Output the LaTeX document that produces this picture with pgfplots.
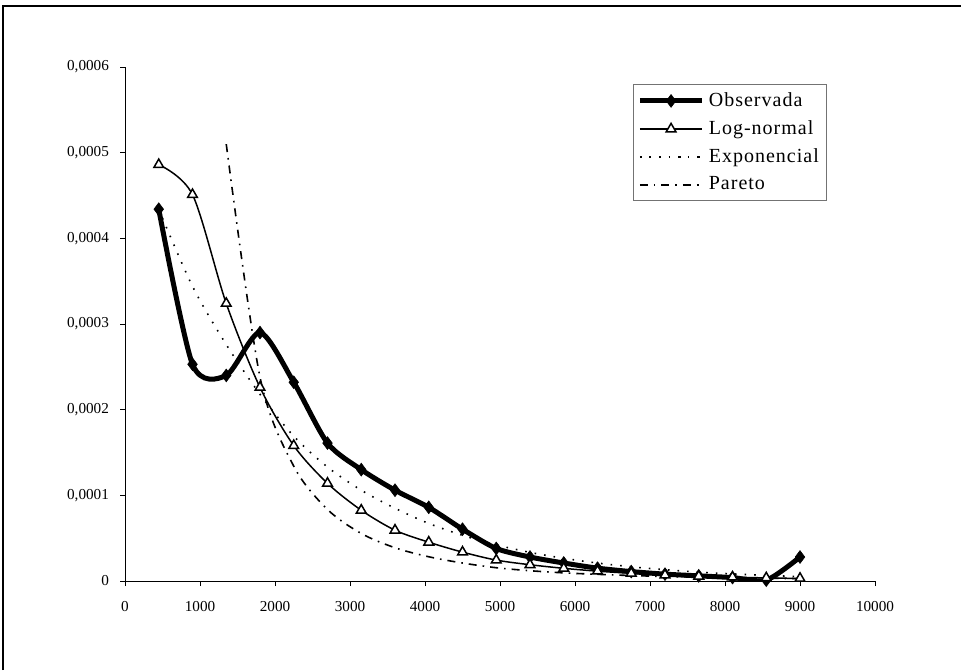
\documentclass[border=0pt]{standalone}
\usepackage{fontspec}
\setmainfont{Liberation Serif}
\usepackage{pgfplots}
\pgfplotsset{compat=1.18}
\usepackage{pgfplotstable}

\pgfplotstableread{
x y
450 0.000434
900 0.000253
1350 0.000240
1800 0.000290
2250 0.000232
2700 0.000161
3150 0.000130
3600 0.000106
4050 0.000086
4500 0.0000605
4950 0.000038
5400 0.000028
5850 0.000021
6300 0.000015
6750 0.000011
7200 0.000008
7650 0.000006
8100 0.000004
8550 0.000001
9000 0.000028
}\observada

\pgfplotstableread{
x y
450 0.000486
900 0.000451
1350 0.000324
1800 0.000226
2250 0.000158
2700 0.000114
3150 0.0000826
3600 0.0000593
4050 0.0000453
4500 0.0000337
4950 0.0000244
5400 0.000019
5850 0.0000148
6300 0.0000115
6750 0.000009
7200 0.000007
7650 0.0000056
8100 0.0000045
8550 0.0000036
9000 0.000003
}\lognormal

\pgfplotstableread{
x y
450 0.000434
900 0.000344
1350 0.000276
1800 0.000218
2250 0.000169
2700 0.000133
3150 0.000106
3600 0.0000849
4050 0.0000672
4500 0.0000533
4950 0.0000422
5400 0.0000334
5850 0.0000265
6300 0.000021
6750 0.0000166
7200 0.0000132
7650 0.0000104
8100 0.0000083
8550 0.0000065
9000 0.0000052
}\exponencial

\pgfplotstableread{
x y
1350 0.000510
1800 0.000238
2250 0.000134
2700 0.0000835
3150 0.0000555
3600 0.0000388
4050 0.0000283
4500 0.0000210
4950 0.0000155
5400 0.0000120
5850 0.0000095
6300 0.0000078
6750 0.0000064
7200 0.0000053
7650 0.0000045
8100 0.0000038
8550 0.0000032
9000 0.0000028
}\pareto

\begin{document}
\begin{tikzpicture}
\path[use as bounding box] (0,0) rectangle (480.5pt,335pt);
\draw[line width=1pt] (1.5pt,0) -- (1.5pt,332pt) -- (480.5pt,332pt);
\begin{axis}[
  at={(62.5pt,44.5pt)}, anchor=south west,
  scale only axis, width=375pt, height=257pt,
  xmin=0, xmax=10000, ymin=0, ymax=0.0006,
  axis lines*=left,
  axis line style={line width=0.5pt, black},
  tick align=outside,
  major tick length=2.5pt,
  tick style={line width=0.5pt, black},
  xtick={0,1000,...,10000},
  ytick={0,0.0001,0.0002,0.0003,0.0004,0.0005,0.0006},
  yticklabels={0,{0,0001},{0,0002},{0,0003},{0,0004},{0,0005},{0,0006}},
  scaled y ticks=false,
  scaled x ticks=false,
  /pgf/number format/1000 sep={},
  /pgf/number format/assume math mode=true,
  tick label style={font=\fontsize{7.6}{8}\selectfont},
  xticklabel style={yshift=-4pt},
  yticklabel style={xshift=-2pt},
  legend cell align=left,
  legend style={at={(rel axis cs:0.677,0.967)}, anchor=north west,
    draw=black!55, line width=0.5pt, inner xsep=2pt, inner ysep=2pt,
    row sep=1.6pt,
    font=\fontsize{10}{12}\selectfont\addfontfeatures{LetterSpace=5}},
  legend image code/.code={\draw[mark repeat=2,mark phase=2] plot coordinates {(0cm,0cm) (0.55cm,0cm) (1.1cm,0cm)};},
]
\addplot[black, line width=2.5pt, smooth, tension=0.45, mark=diamond*, mark size=3.2pt, mark options={solid, line width=0.3pt}] table[x=x,y=y] {\observada};
\addlegendentry{Observada}
\addplot[black, line width=0.75pt, smooth, tension=0.5, mark=triangle*, mark size=2.8pt, mark options={solid, fill=white, line width=0.75pt}] table[x=x,y=y] {\lognormal};
\addlegendentry{Log-normal}
\addplot[black, line width=0.8pt, smooth, tension=0.5, dash pattern=on 0.8pt off 4pt] table[x=x,y=y] {\exponencial};
\addlegendentry{Exponencial}
\addplot[black, line width=0.8pt, smooth, tension=0.5, dash pattern=on 4pt off 3pt on 0.8pt off 3pt] table[x=x,y=y] {\pareto};
\addlegendentry{Pareto}
\end{axis}
\end{tikzpicture}
\end{document}
